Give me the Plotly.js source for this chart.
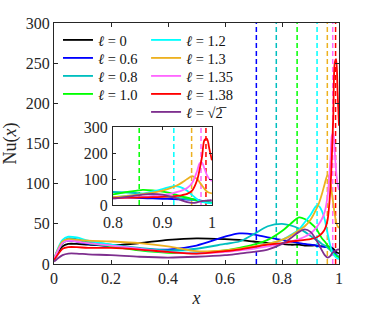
<!DOCTYPE html>
<html><head><meta charset="utf-8">
<script src="https://cdn.plot.ly/plotly-3.0.1.min.js"></script>
<style>html,body{margin:0;padding:0;background:#fff}#plot{width:374px;height:312px}</style>
</head><body><div id="plot"></div>
<script>
const xs = [0,0.01,0.03,0.05,0.08,0.12,0.2,0.3,0.4,0.5,0.6,0.65,0.7,0.75,0.8,0.83,0.86,0.88,0.9,0.92,0.93,0.94,0.95,0.96,0.97,0.975,0.98,0.985,0.99,0.995,1.0];
const nu_l0    = [5,12,22,25,25,24,23,26,30,32,31,30,28,26,25,24,24,23,23,23,22,22,22,22,21,20,19,17,15,14,13];
const nu_l06   = [5,14,26,29,28,25,22,19,18,23,34,38,37,33,30,28,26,25,24,23,22,22,21,21,20,18,16,14,12,10,9];
const nu_l08   = [5,15,28,32,31,28,24,20,17,19,25,28,37,47,50,48,44,40,35,30,28,25,23,20,17,15,14,12,11,10,9];
const nu_l10   = [5,14,26,30,29,26,22,17,14,14,17,20,24,30,41,50,58,56,51,44,38,32,28,23,18,16,14,12,10,9,8];
const nu_l12   = [5,16,30,34,33,29,24,18,15,14,16,18,21,25,30,36,43,52,61,72,72,66,55,38,22,16,12,10,8,7,6];
const nu_l13   = [5,15,28,31,30,29,28,26,22,16,17,19,22,25,30,35,42,47,55,68,76,87,100,111,100,88,75,62,52,47,45];
const nu_l135  = [5,14,26,29,28,26,23,19,15,13,15,17,19,22,25,28,31,34,38,45,50,56,65,85,130,160,163,140,115,100,92];
const nu_l138  = [5,10,19,21,21,20,20,18,15,13,16,18,21,24,26,28,29,30,31,33,35,38,43,55,95,135,185,250,255,215,172];
const nu_lsqrt2= [3,6,11,13,13,12,11,9,8,9,11,13,15,18,25,32,40,43,40,30,24,17,11,8,10,13,15,16,17,18,18];

const labels = ["<i>ℓ</i> = 0","<i>ℓ</i> = 0.6","<i>ℓ</i> = 0.8","<i>ℓ</i> = 1.0","<i>ℓ</i> = 1.2","<i>ℓ</i> = 1.3","<i>ℓ</i> = 1.35","<i>ℓ</i> = 1.38","<i>ℓ</i> = √2\u0305"];
const colors = ["#000000","#0000ff","#00bfbf","#00ff00","#00ffff","#edb120","#ff66ff","#ff0000","#7e2f8e"];
const series = [nu_l0,nu_l06,nu_l08,nu_l10,nu_l12,nu_l13,nu_l135,nu_l138,nu_lsqrt2];

// critical positions (dashed lines), for ℓ = 0.6 ... 1.38
const xcrit = [0.71,0.78,0.853,0.923,0.959,0.978,0.988];
const xcritColor = ["#0000ff","#00bfbf","#00ff00","#00ffff","#edb120","#ff66ff","#ff0000"];

const F = "Liberation Serif";
const traces = [];
xcrit.forEach((xc,i)=>{
  traces.push({x:[xc,xc],y:[0,300],mode:'lines',showlegend:false,hoverinfo:'skip',
    line:{color:xcritColor[i],width:1.5,dash:'5px,3px'},xaxis:'x',yaxis:'y'});
  if (xc>=0.8) traces.push({x:[xc,xc],y:[0,300],mode:'lines',showlegend:false,hoverinfo:'skip',
    line:{color:xcritColor[i],width:1.5,dash:'5px,3px'},xaxis:'x2',yaxis:'y2'});
});
const legendNames = series.map((s,i)=> i===0 ? 'legend' : 'legend'+(i+1));
series.forEach((s,i)=>{
  traces.push({x:xs,y:s,mode:'lines',name:labels[i],line:{color:colors[i],width:1.8,shape:'spline',smoothing:0.8},
    xaxis:'x',yaxis:'y',legend:legendNames[i]});
});
series.forEach((s,i)=>{
  if (i===0) return;
  traces.push({x:xs,y:s,mode:'lines',showlegend:false,line:{color:colors[i],width:1.8,shape:'spline',smoothing:0.8},
    xaxis:'x2',yaxis:'y2'});
});

const axcommon = {showline:true,linecolor:'#262626',linewidth:1,mirror:'allticks',ticks:'inside',ticklen:4,tickcolor:'#262626',
  showgrid:false,zeroline:false,tickfont:{family:F,size:16,color:'#262626'}};
const layout = {
  width:374,height:312,paper_bgcolor:'#fff',plot_bgcolor:'#fff',
  margin:{l:54,r:35,t:23,b:48},
  font:{family:F,color:'#262626'},
  xaxis:Object.assign({},axcommon,{range:[0,1],tickvals:[0,0.2,0.4,0.6,0.8,1],ticktext:['0','0.2','0.4','0.6','0.8','1'],
    title:{text:'<i>x</i>',font:{family:F,size:18,color:'#262626'},standoff:5}}),
  yaxis:Object.assign({},axcommon,{range:[0,300],tickvals:[0,50,100,150,200,250,300],
    title:{text:'Nu(<i>x</i>)',font:{family:F,size:18,color:'#262626'},standoff:8}}),
  xaxis2:Object.assign({},axcommon,{domain:[0.207,0.554],anchor:'y2',range:[0.8,1],tickvals:[0.8,0.9,1],ticktext:['0.8','0.9','1'],ticklen:3,ticklabelstandoff:3}),
  yaxis2:Object.assign({},axcommon,{domain:[0.245,0.568],anchor:'x2',range:[0,300],tickvals:[0,100,200,300],ticklen:3,ticklabelstandoff:1}),
  showlegend:true
};
// one legend per entry, two columns (column-major as in the reference)
const rowPx = [40,58,76,94,40,58,76,94,112];
series.forEach((s,i)=>{
  layout[legendNames[i]] = {x: i<4 ? 0.014 : 0.323, y:(264-rowPx[i])/241, xanchor:'left', yanchor:'middle',
    bgcolor:'rgba(0,0,0,0)', font:{family:F,size:14.5,color:'#111'}, borderwidth:0};
});
Plotly.newPlot('plot',traces,layout,{staticPlot:true,displayModeBar:false});
</script></body></html>
